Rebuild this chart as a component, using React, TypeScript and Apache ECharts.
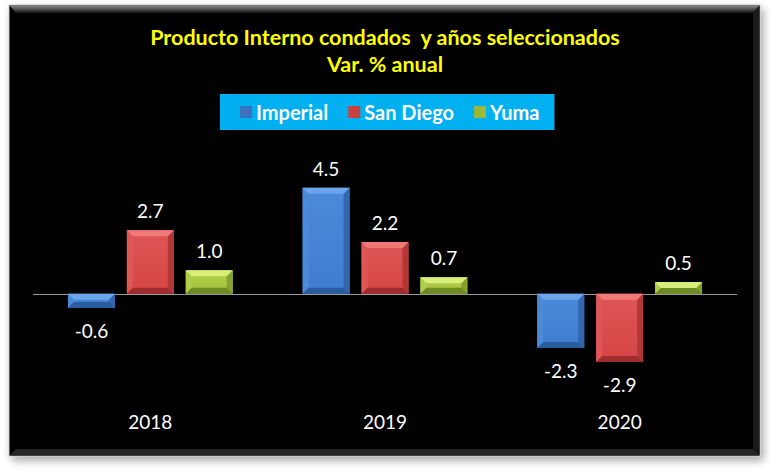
import React, { useEffect, useRef } from "react";
import * as echarts from "echarts";

const categories = ["2018", "2019", "2020"];
const seriesNames = ["Imperial", "San Diego", "Yuma"];
const imperial = [-0.6, 4.5, -2.3];
const sanDiego = [2.7, 2.2, -2.9];
const yuma = [1.0, 0.7, 0.5];
const titleLines = ["Producto Interno condados  y años seleccionados", "Var. % anual"];

const palettes = [
  { face: "#3F7ECF", top: "#6BA6EC", bottom: "#2B5C9E", left: "#4A8AD8", right: "#3366AE", legend: "#3A72BC" },
  { face: "#D64545", top: "#F07A78", bottom: "#9E2E2E", left: "#DE5656", right: "#B23838", legend: "#C84040" },
  { face: "#A3C23C", top: "#D6EE7A", bottom: "#6E8A24", left: "#B0CE4A", right: "#86A02E", legend: "#9AB83A" },
];

function makeRenderItem(si: number) {
  const pal = palettes[si];
  return (params: any, api: any) => {
    const ci = api.value(0);
    const val = api.value(1);
    const base = api.coord([ci, 0]);
    const tip = api.coord([ci, val]);
    const band = api.size([1, 0])[0];
    const w = band * 0.2;
    const off = (si - 1) * band * 0.251;
    const x = base[0] + off - w / 2;
    const y0 = Math.min(base[1], tip[1]);
    const y1 = Math.max(base[1], tip[1]);
    const h = y1 - y0;
    const b = Math.min(6, h / 2, w / 2);
    const label = val.toFixed(1);
    const children: any[] = [
      {
        type: "rect",
        shape: { x, y: y0, width: w, height: h },
        style: {
          fill: new echarts.graphic.LinearGradient(0, 0, 0, 1, [
            { offset: 0, color: pal.left },
            { offset: 1, color: pal.face },
          ]),
        },
      },
      { type: "polygon", shape: { points: [[x, y0], [x + b, y0 + b], [x + b, y1 - b], [x, y1]] }, style: { fill: pal.left } },
      { type: "polygon", shape: { points: [[x + w, y0], [x + w - b, y0 + b], [x + w - b, y1 - b], [x + w, y1]] }, style: { fill: pal.right } },
      { type: "polygon", shape: { points: [[x, y0], [x + w, y0], [x + w - b, y0 + b], [x + b, y0 + b]] }, style: { fill: pal.top } },
      { type: "polygon", shape: { points: [[x, y1], [x + w, y1], [x + w - b, y1 - b], [x + b, y1 - b]] }, style: { fill: pal.bottom } },
      {
        type: "text",
        style: {
          x: x + w / 2,
          y: val >= 0 ? y0 - 10 : y1 + 13,
          text: label,
          fill: "#ffffff",
          font: "19px Lato, 'Liberation Sans', sans-serif",
          align: "center",
          verticalAlign: val >= 0 ? "bottom" : "top",
        },
      },
    ];
    return { type: "group", children };
  };
}

export default function App() {
  const ref = useRef<HTMLDivElement>(null);
  useEffect(() => {
    if (!ref.current) return;
    const chart = echarts.init(ref.current, null, { renderer: "svg" });
    const datasets = [imperial, sanDiego, yuma];
    const series: any[] = datasets.map((d, si) => ({
      type: "custom",
      name: seriesNames[si],
      renderItem: makeRenderItem(si),
      itemStyle: { color: palettes[si].legend },
      encode: { x: 0, y: 1 },
      data: d.map((v, i) => [i, v]),
      z: 5,
    }));
    series[0].markLine = {
      silent: true,
      symbol: "none",
      label: { show: false },
      lineStyle: { color: "#9a9a9a", width: 1, type: "solid" },
      data: [{ yAxis: 0 }],
      z: 3,
    };
    chart.setOption({
      animation: false,
      backgroundColor: "#ffffff",
      graphic: [
        {
          type: "rect",
          shape: { x: 9, y: 5, width: 751, height: 451 },
          style: { fill: "#000000", stroke: "#c8c8c8", lineWidth: 1, shadowBlur: 8, shadowColor: "rgba(0,0,0,0.35)", shadowOffsetX: 3, shadowOffsetY: 4 },
          z: -10,
        },
        {
          type: "polygon",
          shape: { points: [[9.5, 5.5], [759.5, 5.5], [753, 13], [16, 13]] },
          style: {
            fill: new echarts.graphic.LinearGradient(0, 0, 0, 1, [
              { offset: 0, color: "#8a8a8a" },
              { offset: 1, color: "#141414" },
            ]),
          },
          z: -9,
        },
        {
          type: "polygon",
          shape: { points: [[9.5, 455.5], [759.5, 455.5], [753, 449], [16, 449]] },
          style: { fill: "#262626" },
          z: -9,
        },
        {
          type: "polygon",
          shape: { points: [[759.5, 5.5], [759.5, 455.5], [753, 449], [753, 13]] },
          style: { fill: "#1a1a1a" },
          z: -9,
        },
      ],
      title: {
        text: titleLines.join("\n"),
        left: "center",
        top: 18,
        textStyle: {
          color: "#FFFF00",
          fontFamily: "Lato, 'Liberation Sans', sans-serif",
          fontWeight: "bold",
          fontSize: 21.5,
          lineHeight: 27,
        },
      },
      legend: {
        left: 220,
        top: 94,
        data: seriesNames,
        icon: "rect",
        itemWidth: 12,
        itemHeight: 12,
        itemGap: 20,
        backgroundColor: "#00B0F0",
        padding: [8, 15, 8, 20],
        textStyle: {
          color: "#ffffff",
          fontFamily: "Lato, 'Liberation Sans', sans-serif",
          fontWeight: "bold",
          fontSize: 20,
          padding: [0, 0, 0, -1],
        },
      },
      grid: { left: 33, right: 33, top: 176, bottom: 82, containLabel: false },
      xAxis: {
        type: "category",
        data: categories,
        axisLine: { show: false, onZero: false },
        axisTick: { show: false },
        axisLabel: { color: "#ffffff", fontSize: 19, fontFamily: "Lato, 'Liberation Sans', sans-serif", margin: 24 },
        splitLine: { show: false },
      },
      yAxis: {
        type: "value",
        min: -4,
        max: 5,
        interval: 1,
        show: false,
        splitLine: { show: false },
      },
      series,
    });
    return () => chart.dispose();
  }, []);
  return (
    <div
      ref={ref}
      style={{ position: "absolute", left: 0, top: 0, width: 770, height: 470 }}
    />
  );
}
